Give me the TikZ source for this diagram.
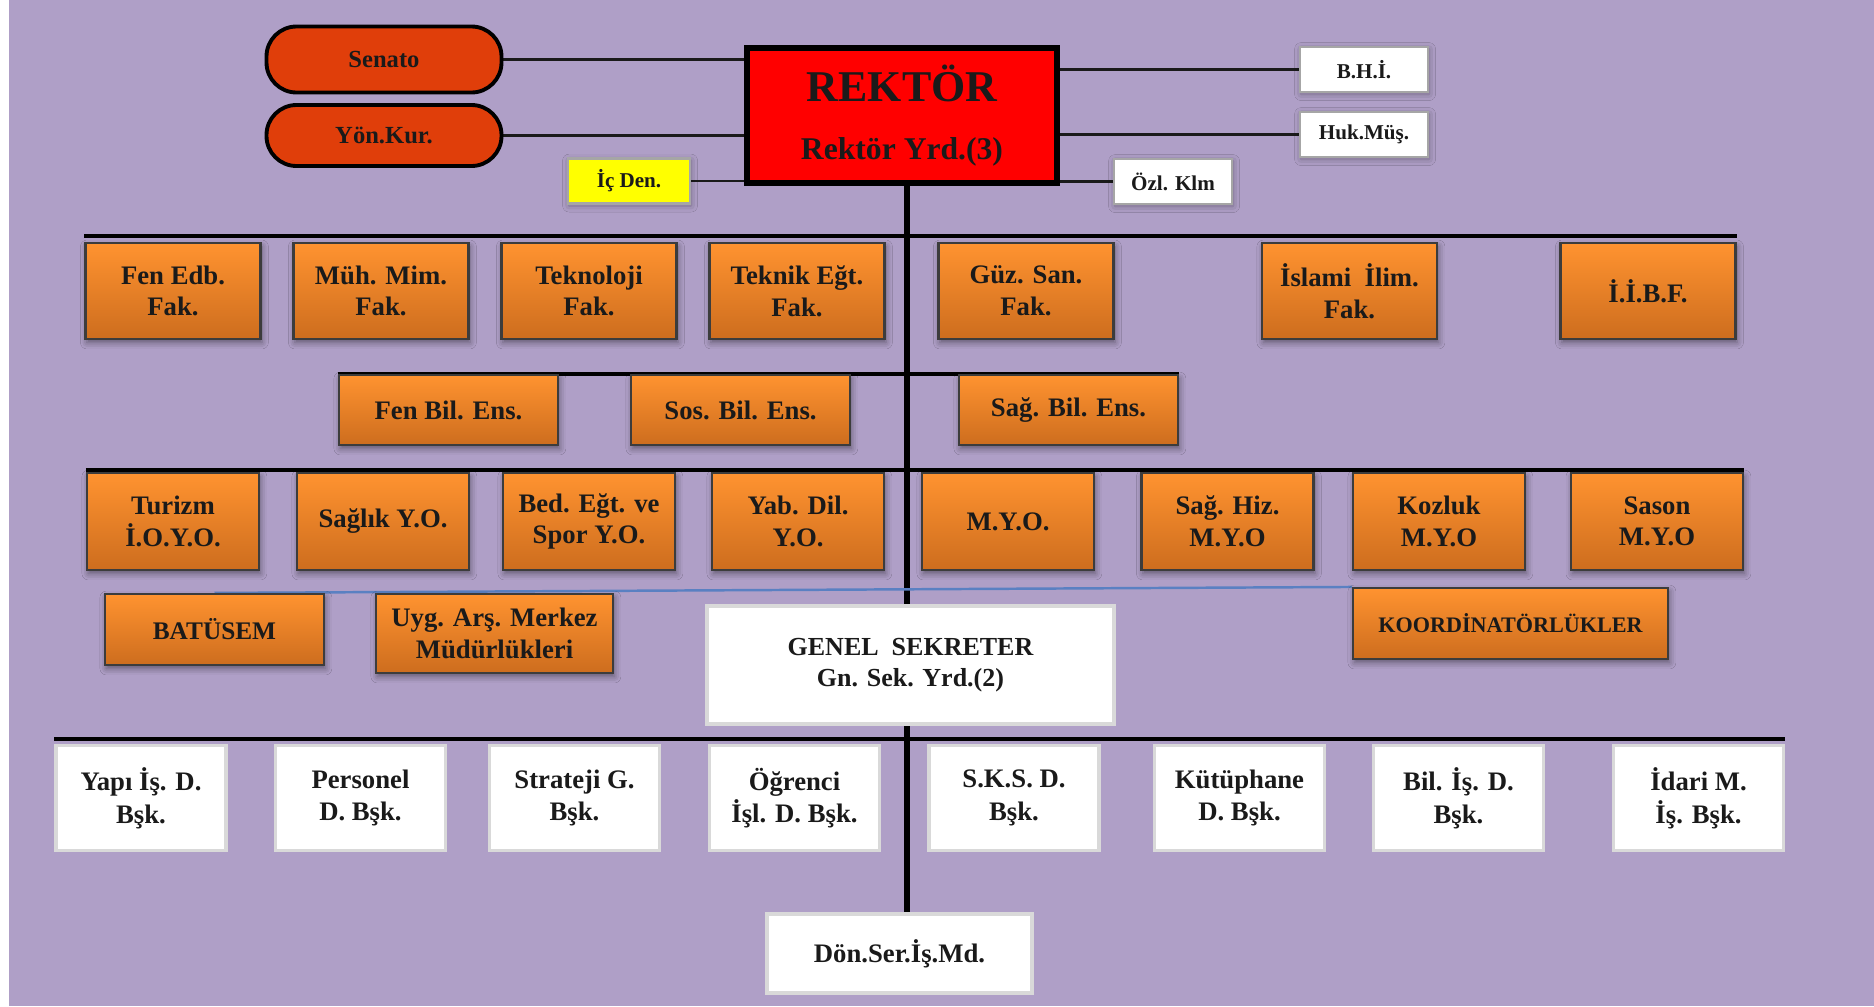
\documentclass[tikz,border=0pt]{standalone}
\usepackage{fontspec}
\setmainfont{Liberation Serif}
\usetikzlibrary{positioning, backgrounds, shadows.blur}
\definecolor{ink}{HTML}{1A1A1A}
\definecolor{lilac}{HTML}{AF9FC7}
\definecolor{headred}{HTML}{FF0000}
\definecolor{pillred}{HTML}{E03E0A}
\definecolor{orangetop}{HTML}{FF9330}
\definecolor{orangebot}{HTML}{CD6D1E}
\definecolor{wire}{HTML}{5A80C2}
\definecolor{pale}{HTML}{D9D9D9}
\definecolor{lemon}{HTML}{FFFF00}
\tikzset{
  font=\bfseries,
  %
  unit/.style={
    draw=ink!85, line width=0.6pt, top color=orangetop, bottom color=orangebot,
    text=ink, align=center, inner sep=2pt,
    font=\bfseries\fontsize{7.6}{9}\selectfont,
    blur shadow={shadow xshift=0.4pt, shadow yshift=-1pt, shadow blur steps=4, shadow opacity=45},
  },
  office/.style={
    draw=pale, line width=1pt, fill=white, text=ink, align=center, inner sep=2pt,
    font=\bfseries\fontsize{7.6}{9.3}\selectfont,
  },
  aide/.style={
    draw=gray!70, line width=0.6pt, fill=white, text=ink, inner sep=1pt,
    font=\bfseries\fontsize{6}{7}\selectfont, minimum height=0.45cm,
    blur shadow={shadow xshift=0.3pt, shadow yshift=-0.6pt, shadow blur steps=3, shadow opacity=35},
  },
  council/.style={
    draw=black, line width=1.1pt, fill=pillred, rounded corners=3mm, text=ink,
    minimum width=2.35cm, font=\bfseries\fontsize{7}{8}\selectfont,
  },
  %
  link/.style={draw=ink, line width=0.8pt},
  bus/.style={draw=black, line width=1.1pt},
  spine/.style={draw=black, line width=1.8pt},
  wireline/.style={draw=wire, line width=0.7pt},
}

\begin{document}
\begin{tikzpicture}[x=1cm, y=1cm]
  \useasboundingbox (0,0) rectangle (18.74,10.06);

  % top
  \node[council, minimum height=0.66cm] (senato) at (3.84,9.465) {Senato};
  \node[council, minimum height=0.61cm] (yonkur) at (3.84,8.705) {Yön.Kur.};
  \node[draw=black, line width=1.5pt, fill=headred, text=ink, align=center,
        minimum width=3.10cm, minimum height=1.35cm, inner sep=1pt,
        font=\bfseries\fontsize{9}{16.5}\selectfont] (rektor) at (9.02,8.905)
    {{\fontsize{12.5}{16.5}\selectfont REKTÖR}\\Rektör Yrd.(3)};
  \node[aide, fill=lemon, minimum width=1.22cm] (icden)  at (6.29,8.25)  {İç Den.};
  \node[aide, minimum width=1.28cm]             (bhi)    at (13.64,9.365) {B.H.İ.};
  \node[aide, minimum width=1.28cm]             (hukmus) at (13.64,8.715) {Huk.Müş.};
  \node[aide, minimum width=1.18cm]             (ozlklm) at (11.73,8.245) {Özl. Klm};

  % faculties
  \foreach \n/\x/\t in {
      fenedb/1.73/{Fen Edb.\\Fak.}, muhmim/3.81/{Müh. Mim.\\Fak.},
      teknoloji/5.89/{Teknoloji\\Fak.}, teknik/7.97/{Teknik Eğt.\\Fak.},
      guzsan/10.26/{Güz. San.\\Fak.}, islami/13.495/{İslami\enspace İlim.\\Fak.},
      iibf/16.48/{İ.İ.B.F.}}
    \node[unit, minimum width=1.75cm, minimum height=0.96cm] (\n) at (\x,7.15) {\t};

  % institutes
  \foreach \n/\x/\t in {fenbil/4.485/{Fen Bil. Ens.}, sosbil/7.405/{Sos. Bil. Ens.},
      sagbil/10.685/{Sağ. Bil. Ens.}}
    \node[unit, minimum width=2.19cm, minimum height=0.70cm] (\n) at (\x,5.96) {\t};

  % schools
  \foreach \n/\x/\t in {
      turizm/1.73/{Turizm\\İ.O.Y.O.}, saglik/3.83/{Sağlık Y.O.},
      bedegt/5.89/{Bed. Eğt. ve\\Spor Y.O.}, yabdil/7.98/{Yab. Dil.\\Y.O.},
      myo/10.08/{M.Y.O.}, saghiz/12.275/{Sağ. Hiz.\\M.Y.O},
      kozluk/14.39/{Kozluk\\M.Y.O}, sason/16.57/{Sason\\M.Y.O}}
    \node[unit, minimum width=1.72cm, minimum height=0.97cm] (\n) at (\x,4.845) {\t};

  % centres
  \node[unit, minimum width=2.19cm, minimum height=0.71cm, font=\bfseries\fontsize{7.2}{9}\selectfont]
    (batusem) at (2.145,3.765) {BATÜSEM};
  \node[unit, minimum width=2.37cm, minimum height=0.79cm] (uyg) at (4.945,3.725)
    {Uyg. Arş. Merkez\\Müdürlükleri};
  \node[unit, minimum width=3.15cm, minimum height=0.71cm, font=\bfseries\fontsize{6.3}{8}\selectfont]
    (koord) at (15.105,3.825) {KOORDİNATÖRLÜKLER};
  \node[office, minimum width=4.07cm, minimum height=1.18cm, font=\bfseries\fontsize{7.4}{8.8}\selectfont]
    (genel) at (9.105,3.41) {GENEL\enspace SEKRETER\\Gn. Sek. Yrd.(2)};

  % departments
  \foreach \n/\x/\t in {
      yapi/1.41/{Yapı İş. D.\\Bşk.}, personel/3.605/{Personel\\D. Bşk.},
      strateji/5.745/{Strateji G.\\Bşk.}, ogrenci/7.945/{Öğrenci\\İşl. D. Bşk.},
      sks/10.14/{S.K.S. D.\\Bşk.}, kutuphane/12.395/{Kütüphane\\D. Bşk.},
      bilis/14.585/{Bil. İş. D.\\Bşk.}, idari/16.985/{İdari M.\\İş. Bşk.}}
    \node[office, minimum width=1.70cm, minimum height=1.05cm] (\n) at (\x,2.08) {\t};

  \node[office, minimum width=2.65cm, minimum height=0.79cm] (don) at (8.995,0.525) {Dön.Ser.İş.Md.};

  \coordinate (axis) at (9.07,0);

  \begin{scope}[on background layer]
    \fill[white] (0,0) rectangle (18.74,10.06);
    \fill[lilac] (0.09,0) rectangle (18.74,10.06);

    \draw[link] (senato.east) -- (senato.east -| rektor.west);
    \draw[link] (yonkur.east) -- (yonkur.east -| rektor.west);
    \draw[link] (icden.east)  -- (icden.east -| rektor.west);
    \draw[link] (bhi.west -| rektor.east)    -- (bhi.west);
    \draw[link] (hukmus.west -| rektor.east) -- (hukmus.west);
    \draw[link] (ozlklm.west -| rektor.east) -- (ozlklm.west);

    \draw[spine] (rektor.south -| axis) -- (don.north -| axis);

    \draw[bus] ([yshift=0.6mm]fenedb.north west) -- ([yshift=0.6mm]iibf.north east);
    \draw[bus] (fenbil.north west) -- (sagbil.north east);
    \draw[bus] ([yshift=0.2mm]turizm.north west) -- ([yshift=0.2mm]sason.north east);
    \draw[bus] ([yshift=0.5mm]yapi.north west) -- ([yshift=0.5mm]idari.north east);
    \draw[wireline] (batusem.north) -- (koord.north west);
  \end{scope}

\end{tikzpicture}
\end{document}
